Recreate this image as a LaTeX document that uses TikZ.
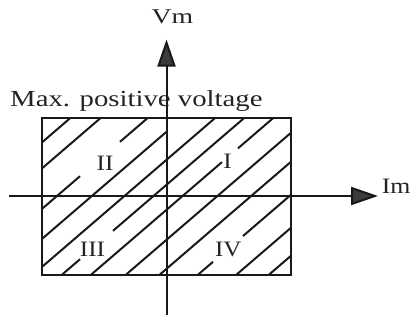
\documentclass[tikz,border=0pt]{standalone}
\usepackage{fontspec}
\setmainfont{Liberation Serif}
\usepackage{graphicx}
\usetikzlibrary{arrows.meta}
\definecolor{ink}{RGB}{25,25,25}
\definecolor{txt}{RGB}{35,35,35}
\newcommand\hatchseg[3]{\draw[ln] (#2,{#1-0.86*#2}) -- (#3,{#1-0.86*#3});}
\begin{document}
\begin{tikzpicture}[x=1pt,y=-1pt,
  ln/.style={line width=2pt, draw=ink},
  axisarrow/.style={ln, -{Triangle[length=27pt,width=18pt,fill=ink!85!white]}},
  lbl/.style={text=txt, inner sep=0pt, font=\fontsize{22}{22}\selectfont}]
\useasboundingbox (0,0) rectangle (411,321);
% hatch lines
\hatchseg{178.5}{42}{70.0}
\hatchseg{204.5}{42}{100.2}
\hatchseg{245}{42}{80}
\hatchseg{245}{120}{147.4}
\hatchseg{275}{42}{166.5}
\hatchseg{303}{42}{214.8}
\hatchseg{328}{62.2}{80}
\hatchseg{328}{113}{243.8}
\hatchseg{353}{91.3}{222}
\hatchseg{353}{238}{272.9}
\hatchseg{383}{126.2}{291}
\hatchseg{412}{159.9}{291}
\hatchseg{445}{198.3}{213}
\hatchseg{445}{243}{291}
\hatchseg{478}{236.6}{291}
\hatchseg{506}{269.2}{291}
% rectangle
\draw[ln] (42,118.3) rectangle (291,274.5);
% axes
\draw[axisarrow] (166.5,315) -- (166.5,39.5);
\draw[axisarrow] (9,196) -- (378,196);
% labels
\node[lbl, anchor=base, font=\fontsize{21}{21}\selectfont] (vm) at (172.5,23.3) {\scalebox{1.32}[1]{Vm}};
\node[lbl, anchor=base west] (im) at (381.7,193.3) {\scalebox{1.17}[1]{Im}};
\node[lbl, anchor=base west, font=\fontsize{23}{23}\selectfont] (maxv) at (10,106.7) {\scalebox{1.25}[1]{Max. positive voltage}};
\node[lbl, anchor=base] (q2) at (105,170) {\scalebox{1.14}[1]{II}};
\node[lbl, anchor=base] (q1) at (227.5,168.3) {\scalebox{1.14}[1]{I}};
\node[lbl, anchor=base] (q3) at (92.5,256.7) {\scalebox{1.14}[1]{III}};
\node[lbl, anchor=base] (q4) at (228.3,256.7) {\scalebox{1.14}[1]{IV}};
\end{tikzpicture}
\end{document}
